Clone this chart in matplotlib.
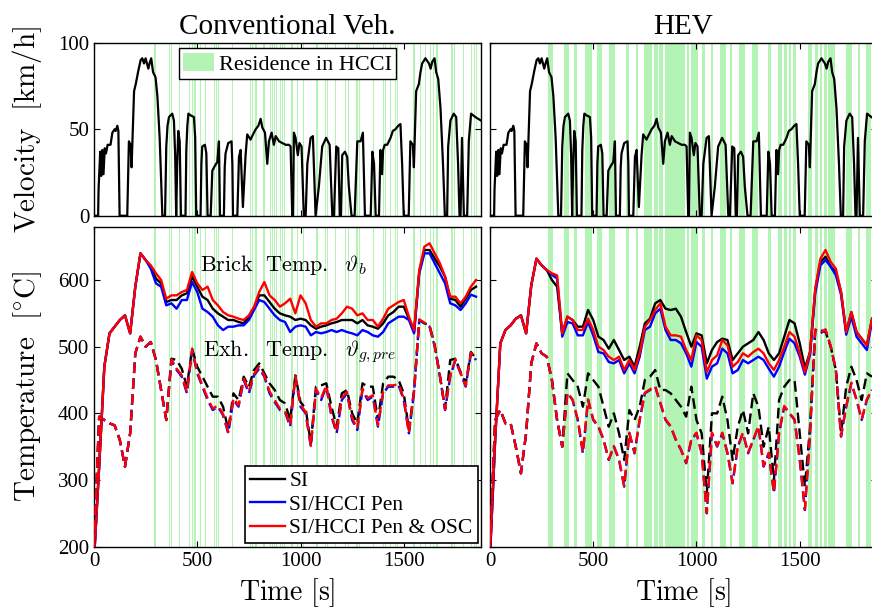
import numpy as np
import matplotlib
matplotlib.use("Agg")
import matplotlib.pyplot as plt
from matplotlib.lines import Line2D
from matplotlib.patches import Patch

plt.rcParams["font.family"] = ["Liberation Serif", "DejaVu Serif"]
plt.rcParams["mathtext.fontset"] = "cm"

GREEN = "#b3f3b3"

# drive cycle speed trace (s, km/h)
vel_time = [0, 20, 22, 30, 35, 40, 46, 52, 58, 66, 80, 89, 100, 105, 113, 118, 124, 161, 169, 177,
            182, 194, 202, 215, 226, 234, 242, 250, 263, 269, 277, 286, 298, 307, 318, 331, 344, 350,
            356, 363, 379, 387, 393, 398, 403, 408, 415, 421, 443, 447, 452, 457, 468, 484, 490, 495,
            516, 520, 524, 537, 544, 550, 565, 573, 586, 597, 605, 610, 629, 633, 637, 650, 666, 670,
            673, 694, 702, 710, 721, 734, 742, 758,
            766, 783, 796, 807, 815, 828, 839, 847, 860, 871, 880, 896, 912, 928, 944, 952, 960, 964,
            968, 976, 987, 995, 1005, 1016, 1025, 1033, 1049, 1060, 1073, 1089, 1105, 1124, 1141,
            1154, 1162, 1173, 1183, 1190, 1196, 1202, 1215, 1226, 1234, 1247, 1262, 1275, 1291, 1302,
            1312, 1340, 1348, 1356, 1364, 1380, 1387, 1395, 1400, 1408, 1420, 1436, 1447, 1460, 1473,
            1484, 1492, 1500, 1524, 1532, 1544, 1549, 1560, 1573, 1581, 1589, 1605, 1622, 1630, 1638,
            1649, 1657, 1667, 1678, 1690, 1699, 1710, 1715, 1726, 1742, 1754, 1763, 1770, 1775, 1782,
            1791, 1807, 1815, 1826, 1847, 1874]
vel_kmh = [0, 0, 15, 37, 23, 38, 24, 39, 36, 41, 41, 48, 50, 49, 52, 49, 0, 0, 43, 41,
           28, 72, 76, 84, 90, 91, 88, 91, 85, 88, 91, 83, 80, 69, 45, 0, 0, 40,
           52, 57, 59, 55, 35, 0, 30, 49, 43, 0, 0, 38, 52, 59, 58, 57, 45, 0,
           0, 30, 40, 41, 36, 0, 0, 26, 29, 31, 43, 0, 0, 28, 36, 42, 43, 30,
           0, 0, 34, 38, 5, 35, 47, 44,
           46, 50, 52, 56, 51, 48, 30, 43, 48, 41, 46, 43, 42, 41, 41, 40, 0, 0,
           48, 45, 35, 42, 40, 0, 0, 30, 45, 46, 0, 17, 40, 45, 41,
           0, 0, 40, 39, 0, 0, 35, 37, 34, 17, 0, 0, 43, 43, 48,
           0, 0, 37, 30, 0, 0, 38, 24, 38, 41, 41, 45, 49, 50, 52,
           53, 30, 0, 0, 43, 41, 28, 72, 76, 83, 88, 91, 88, 85, 89,
           91, 83, 79, 62, 30, 0, 0, 40, 55, 59, 57, 30, 0, 0, 45,
           0, 0, 43, 59, 57, 55]

# temperatures sampled every 25 s
temp_time = np.arange(0, 1851, 25)

conv_brick_si = [180, 320, 470, 520, 530, 540, 547, 520, 590, 640, 630, 620, 602, 595, 567,
                 570, 570, 577, 580, 605, 590, 575, 570, 557, 550, 545, 540, 540, 537, 535,
                 545, 557, 577, 577, 567, 557, 550, 547, 545, 540, 542, 540, 532, 527, 530,
                 532, 535, 537, 540, 540, 540, 535, 540, 532, 530, 527, 535, 547, 552, 560,
                 560, 542, 522, 612, 645, 645, 632, 620, 605, 572, 570, 560, 572, 585, 590]
conv_brick_pen = [180, 320, 470, 520, 530, 540, 547, 520, 590, 640, 630, 617, 595, 590, 562,
                  565, 557, 570, 570, 597, 582, 557, 552, 545, 532, 525, 530, 530, 532, 532,
                  540, 555, 570, 567, 557, 547, 540, 537, 522, 530, 532, 530, 517, 522, 520,
                  522, 525, 522, 525, 522, 520, 517, 525, 522, 517, 515, 522, 535, 540, 545,
                  545, 540, 520, 610, 640, 640, 625, 610, 595, 565, 562, 555, 565, 578, 575]
conv_brick_osc = [180, 320, 470, 520, 530, 540, 547, 520, 590, 640, 630, 622, 610, 600, 572,
                  577, 577, 582, 585, 612, 595, 585, 590, 570, 562, 552, 547, 545, 542, 540,
                  547, 560, 582, 597, 577, 570, 560, 565, 572, 550, 577, 565, 540, 530, 535,
                  535, 540, 542, 550, 560, 557, 547, 550, 540, 540, 530, 542, 557, 562, 567,
                  570, 545, 525, 615, 650, 655, 640, 625, 605, 575, 575, 565, 575, 590, 600]

conv_exh_si = [200, 395, 390, 385, 382, 360, 320, 370, 490, 515, 500, 507, 480, 435, 390,
               482, 480, 467, 440, 497, 470, 455, 440, 425, 425, 410, 375, 430, 420, 455,
               440, 465, 475, 460, 445, 435, 420, 415, 390, 457, 417, 407, 355, 440, 442,
               445, 410, 380, 430, 435, 400, 385, 445, 440, 440, 390, 445, 455, 455, 450,
               430, 375, 435, 540, 535, 532, 502, 457, 407, 480, 482, 462, 445, 492, 482]
conv_exh_pen = [200, 395, 390, 385, 382, 360, 320, 370, 490, 515, 500, 507, 480, 435, 390,
                480, 465, 455, 430, 495, 460, 440, 420, 405, 410, 397, 370, 420, 410, 450,
                430, 457, 467, 455, 430, 417, 405, 402, 380, 455, 410, 400, 350, 435, 420,
                440, 395, 370, 420, 430, 390, 375, 435, 420, 425, 380, 430, 440, 440, 442,
                420, 370, 432, 540, 535, 530, 500, 455, 405, 455, 480, 460, 440, 490, 480]
conv_exh_osc = [200, 395, 390, 385, 382, 360, 320, 370, 490, 515, 500, 507, 480, 435, 390,
                481, 467, 457, 432, 496, 462, 442, 423, 407, 412, 399, 372, 423, 412, 452,
                433, 459, 470, 457, 433, 420, 407, 404, 382, 456, 413, 402, 351, 437, 423,
                442, 398, 372, 423, 432, 393, 377, 437, 423, 427, 382, 432, 442, 442, 444,
                422, 371, 433, 541, 536, 531, 501, 456, 406, 457, 481, 461, 441, 491, 481]

hev_brick_si = [185, 360, 505, 525, 532, 542, 547, 520, 592, 632, 622, 615, 600, 590, 520,
                545, 540, 530, 530, 555, 540, 515, 510, 497, 510, 495, 480, 485, 470, 500,
                535, 542, 565, 570, 557, 555, 557, 545, 522, 500, 520, 517, 475, 495, 507,
                512, 510, 480, 490, 500, 505, 510, 522, 510, 490, 480, 490, 515, 540, 535,
                505, 468, 492, 585, 627, 635, 620, 612, 582, 522, 552, 522, 512, 502, 542]
hev_brick_pen = [185, 360, 505, 525, 532, 542, 547, 520, 592, 632, 622, 615, 608, 602, 515,
                 537, 535, 517, 517, 537, 517, 492, 490, 477, 475, 480, 460, 475, 460, 485,
                 525, 530, 550, 557, 525, 510, 510, 505, 490, 470, 507, 500, 452, 470, 475,
                 497, 490, 460, 465, 480, 475, 480, 485, 480, 467, 455, 470, 492, 512, 505,
                 485, 458, 488, 580, 622, 630, 620, 607, 578, 518, 545, 515, 505, 495, 538]
hev_brick_osc = [185, 360, 505, 525, 532, 542, 547, 520, 592, 632, 622, 615, 610, 607, 520,
                 545, 540, 525, 525, 542, 525, 500, 495, 485, 480, 485, 465, 480, 465, 490,
                 530, 540, 555, 565, 530, 517, 517, 515, 495, 480, 517, 510, 462, 480, 487,
                 510, 502, 470, 477, 490, 485, 492, 497, 490, 475, 465, 480, 500, 522, 515,
                 490, 462, 492, 587, 632, 645, 627, 617, 582, 522, 552, 522, 512, 502, 542]

hev_exh_si = [200, 390, 405, 385, 385, 350, 310, 370, 475, 505, 490, 485, 450, 390, 350,
              460, 450, 440, 410, 460, 450, 440, 410, 380, 400, 370, 330, 405, 390, 410,
              450, 455, 465, 435, 435, 430, 420, 410, 395, 440, 390, 370, 280, 400, 400,
              425, 390, 330, 380, 405, 370, 430, 410, 350, 380, 300, 420, 440, 450, 450,
              370, 290, 380, 525, 525, 522, 500, 465, 370, 440, 470, 450, 420, 460, 455]
hev_exh_pen = [200, 390, 405, 385, 385, 350, 310, 370, 475, 505, 490, 485, 450, 390, 350,
               430, 420, 390, 340, 420, 390, 380, 360, 330, 350, 330, 290, 370, 340, 390,
               430, 435, 440, 415, 390, 380, 360, 345, 325, 360, 370, 340, 250, 370, 350,
               370, 340, 295, 350, 370, 340, 360, 380, 320, 340, 280, 370, 410, 400, 390,
               330, 255, 370, 525, 520, 525, 500, 465, 365, 410, 445, 420, 390, 420, 435]
hev_exh_osc = [200, 390, 405, 385, 385, 350, 310, 370, 475, 505, 490, 485, 450, 390, 350,
               431, 421, 391, 342, 421, 391, 381, 361, 331, 351, 331, 291, 371, 341, 391,
               431, 436, 441, 416, 391, 381, 361, 346, 326, 361, 371, 341, 251, 371, 351,
               371, 341, 296, 351, 371, 341, 361, 381, 321, 341, 281, 371, 411, 401, 391,
               331, 256, 371, 526, 521, 526, 501, 466, 366, 411, 446, 421, 391, 421, 436]

# residence in HCCI (start, end) in s
conv_hcci = [(290, 295), (296, 300), (365, 370), (372, 377), (413, 418), (461, 465), (468, 472),
             (476, 480), (484, 488), (490, 495), (513, 518), (537, 542), (581, 586), (590, 594),
             (600, 607), (666, 671), (715, 719), (755, 760), (764, 771), (782, 787), (819, 823),
             (824, 828), (852, 857), (862, 866), (872, 876), (880, 885), (900, 905), (910, 914),
             (920, 925), (928, 932), (956, 962), (984, 990), (1013, 1018), (1077, 1083),
             (1118, 1123), (1128, 1134), (1166, 1171), (1215, 1220), (1228, 1235), (1271, 1276),
             (1284, 1290), (1352, 1357), (1400, 1405), (1408, 1413), (1432, 1440), (1456, 1461),
             (1466, 1472), (1545, 1552), (1577, 1584), (1602, 1606), (1626, 1633), (1642, 1647),
             (1655, 1660), (1662, 1667), (1731, 1737), (1742, 1747), (1787, 1792), (1827, 1832),
             (1840, 1846), (1850, 1855)]
hev_hcci = [(282, 307), (358, 382), (408, 421), (460, 495), (516, 544), (576, 605), (661, 673),
            (705, 718), (747, 763), (766, 786), (792, 812), (818, 839), (847, 944), (952, 963),
            (973, 1008), (1028, 1041), (1070, 1081), (1113, 1141), (1162, 1173), (1205, 1234),
            (1267, 1296), (1344, 1360), (1396, 1412), (1425, 1438), (1447, 1460), (1468, 1484),
            (1541, 1557), (1573, 1589), (1597, 1609), (1618, 1630), (1638, 1670), (1726, 1751),
            (1780, 1791), (1823, 1847)]


def shade_hcci(ax, bands):
    for start, end in bands:
        ax.axvspan(start, end, color=GREEN, lw=0, zorder=0)


def style_axes(ax):
    ax.set_xlim(0, 1874)
    ax.set_xticks([0, 500, 1000, 1500])
    ax.tick_params(direction="in", top=True, right=True, length=4, width=0.8, labelsize=15)
    for s in ax.spines.values():
        s.set_linewidth(1.0)


def plot_temps(ax, brick, exh):
    colors = ["black", "blue", "red"]
    for b, c in zip(brick, colors):
        ax.plot(temp_time, b, color=c, lw=1.7, zorder=3)
    for e, c in zip(exh, colors):
        ax.plot(temp_time, e, color=c, lw=1.7, dashes=(4.5, 2.2), zorder=3)
    ax.set_ylim(200, 680)
    ax.set_yticks([200, 300, 400, 500, 600])


fig = plt.figure(figsize=(8.72, 6.13), dpi=100)
ax_v1 = fig.add_axes([0.1078, 0.6481, 0.4438, 0.2822])
ax_v2 = fig.add_axes([0.5619, 0.6481, 0.4438, 0.2822])
ax_t1 = fig.add_axes([0.1078, 0.1082, 0.4438, 0.5220])
ax_t2 = fig.add_axes([0.5619, 0.1082, 0.4438, 0.5220])

for ax, bands in [(ax_v1, conv_hcci), (ax_v2, hev_hcci)]:
    shade_hcci(ax, bands)
    ax.plot(vel_time, vel_kmh, color="black", lw=1.6, zorder=3)
    ax.set_ylim(0, 100)
    ax.set_yticks([0, 50, 100])
    style_axes(ax)
    ax.set_xticklabels([])

shade_hcci(ax_t1, conv_hcci)
plot_temps(ax_t1, [conv_brick_si, conv_brick_pen, conv_brick_osc],
           [conv_exh_si, conv_exh_pen, conv_exh_osc])
shade_hcci(ax_t2, hev_hcci)
plot_temps(ax_t2, [hev_brick_si, hev_brick_pen, hev_brick_osc],
           [hev_exh_si, hev_exh_pen, hev_exh_osc])
for ax in [ax_t1, ax_t2]:
    style_axes(ax)
    ax.set_xlabel(r"$\mathrm{Time\ [s]}$", fontsize=20, labelpad=4)

ax_v2.set_yticklabels([])
ax_t2.set_yticklabels([])

ax_v1.set_title("Conventional Veh.", fontsize=21, pad=6)
ax_v2.set_title("HEV", fontsize=21, pad=6)
ax_v1.set_ylabel(r"$\mathrm{Velocity\ \ [km/h]}$", fontsize=21)
ax_t1.set_ylabel(r"$\mathrm{Temperature\ \ [^{\circ}C]}$", fontsize=21)
ax_v1.yaxis.set_label_coords(-0.13, 0.5)
ax_t1.yaxis.set_label_coords(-0.13, 0.5)

ax_t1.text(513, 622, r"$\mathrm{Brick\ \ Temp.}\ \ \vartheta_b$", fontsize=16, va="center", zorder=4)
ax_t1.text(527, 492, r"$\mathrm{Exh.\ \ Temp.}\ \ \vartheta_{g,pre}$", fontsize=16, va="center", zorder=4)

leg1 = ax_v1.legend([Patch(facecolor=GREEN, edgecolor="none")], ["Residence in HCCI"],
                    loc="upper center", fontsize=16, frameon=True, fancybox=False,
                    borderaxespad=0.25, handlelength=1.4, handleheight=0.9, handletextpad=0.2,
                    borderpad=0.2)
leg1.get_frame().set_edgecolor("black")
leg1.get_frame().set_linewidth(1.0)
leg1.get_frame().set_alpha(1)

handles = [Line2D([], [], color=c, lw=1.7) for c in ["black", "blue", "red"]]
leg2 = ax_t1.legend(handles, ["SI", "SI/HCCI Pen", "SI/HCCI Pen & OSC"], loc="lower right",
                    fontsize=15.5, frameon=True, fancybox=False, borderaxespad=0.15,
                    handlelength=1.6, handletextpad=0.2, labelspacing=0.15, borderpad=0.25)
leg2.get_frame().set_edgecolor("black")
leg2.get_frame().set_linewidth(1.2)
leg2.get_frame().set_alpha(1)
leg2.set_zorder(10)

fig.savefig("out.png", dpi=100)
